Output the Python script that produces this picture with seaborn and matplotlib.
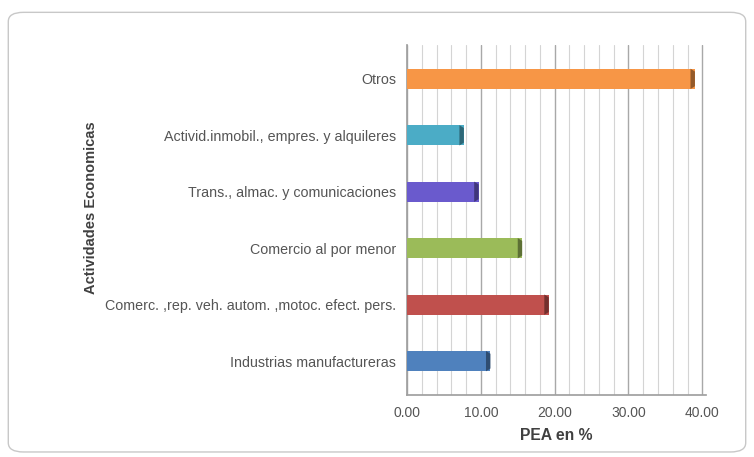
import matplotlib
matplotlib.use("Agg")
import matplotlib.pyplot as plt
from matplotlib.patches import FancyBboxPatch, Polygon
import matplotlib.colors as mcolors
import seaborn as sns
import pandas as pd
import numpy as np

# Economically active population (PEA) share by economic activity
actividades = [
    "Otros",
    "Activid.inmobil., empres. y alquileres",
    "Trans., almac. y comunicaciones",
    "Comercio al por menor",
    "Comerc. ,rep. veh. autom. ,motoc. efect. pers.",
    "Industrias manufactureras",
]
pea_pct = [39.0, 7.7, 9.7, 15.6, 19.2, 11.3]
colores = ["#F79646", "#4BACC6", "#6A5ACD", "#9BBB59", "#C0504D", "#4F81BD"]
x_ticks = [0, 10, 20, 30, 40]

df = pd.DataFrame({"actividad": actividades, "pea": pea_pct})

sns.set_theme(style="white")
plt.rcParams["font.family"] = ["Liberation Sans", "DejaVu Sans"]

fig = plt.figure(figsize=(7.54, 4.57), dpi=100)
fig.patch.set_facecolor("white")

# rounded frame around the chart
frame = FancyBboxPatch((0.011, 0.011), 0.978, 0.962,
                       boxstyle="round,pad=0,rounding_size=0.02",
                       transform=fig.transFigure, facecolor="none",
                       edgecolor="#C8C8C8", linewidth=1.0, zorder=-1)
fig.patches.append(frame)

ax = fig.add_axes([407 / 754, 1 - 395 / 457, (706 - 407) / 754, (395 - 45) / 457])
ax.set_facecolor("none")

# back-wall grid: minor every 2, major every 10
for v in np.arange(0, 41, 2):
    major = v % 10 == 0
    ax.axvline(v, color="#A8A8A8" if major else "#D4D4D4",
               lw=1.0 if major else 0.8, zorder=0)

sns.barplot(data=df, y="actividad", x="pea", hue="actividad",
            palette=colores, orient="h", width=0.36, dodge=False,
            legend=False, ax=ax, saturation=1, zorder=3)

# darker right side on each bar for a 3-D look
for patch in list(ax.patches):
    x0, y0 = patch.get_x(), patch.get_y()
    w, h = patch.get_width(), patch.get_height()
    fc = np.array(mcolors.to_rgb(patch.get_facecolor()))
    dark = tuple(fc * 0.6)
    d = 0.6
    side = Polygon([(x0 + w - d, y0), (x0 + w, y0 + 0.05),
                    (x0 + w, y0 + h - 0.05), (x0 + w - d, y0 + h)],
                   closed=True, facecolor=dark, edgecolor="none", zorder=4)
    ax.add_patch(side)
    patch.set_edgecolor("none")

ax.set_xlim(0, 40.5)
ax.set_ylim(5.6, -0.6)
ax.set_xticks(x_ticks)
ax.set_xticklabels([f"{t:.2f}" for t in x_ticks], fontsize=10, color="#555555")
ax.tick_params(axis="y", labelsize=10.3, labelcolor="#555555", length=0, pad=8)
ax.tick_params(axis="x", length=3, color="#808080", pad=5)

for s in ["top", "right"]:
    ax.spines[s].set_visible(False)
ax.spines["left"].set_color("#A0A0A0")
ax.spines["bottom"].set_color("#A0A0A0")

ax.set_xlabel("PEA en %", fontsize=11.3, fontweight="bold", color="#404040", labelpad=6)
ax.set_ylabel("Actividades Economicas", fontsize=10.5, fontweight="bold",
              color="#404040")
ax.yaxis.set_label_coords(-1.035, 0.535)

fig.savefig("out.png", dpi=100)
